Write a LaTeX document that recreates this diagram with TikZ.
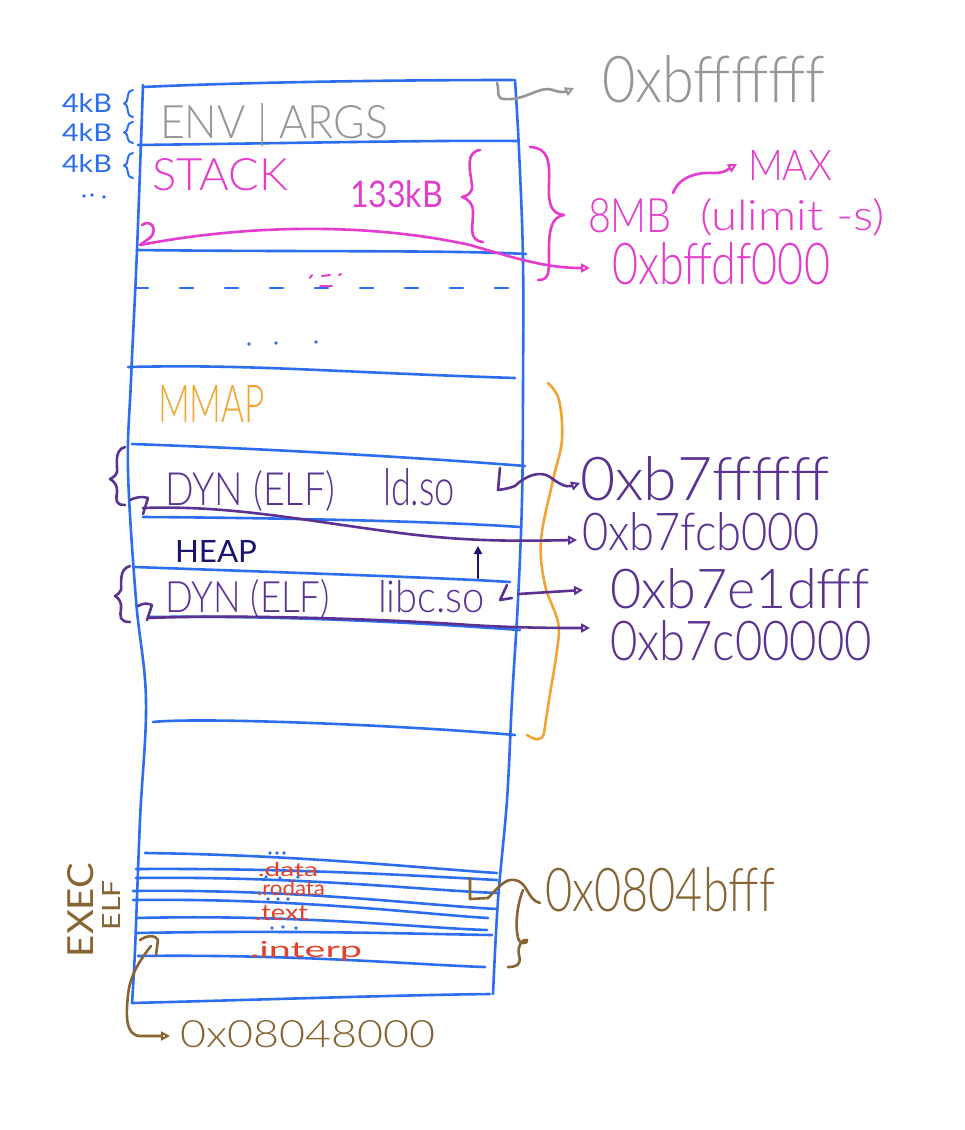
\documentclass[tikz,border=0pt]{standalone}
\usepackage{fontspec}
\setmainfont{Lato Light}
\newfontfamily\regf{Lato}
\usetikzlibrary{arrows.meta}
\definecolor{cblue}{RGB}{45,110,240}
\definecolor{cgray}{RGB}{150,150,150}
\definecolor{cmag}{RGB}{228,60,205}
\definecolor{corange}{RGB}{240,165,50}
\definecolor{cpurp}{RGB}{90,50,145}
\definecolor{cnavy}{RGB}{25,20,110}
\definecolor{cred}{RGB}{225,65,45}
\definecolor{cbrown}{RGB}{135,100,50}
\newcommand{\hw}[3]{\resizebox{#1pt}{#2pt}{#3}}
\begin{document}
\begin{tikzpicture}[x=1pt,y=-1pt,
  ln/.style={line width=2.6pt,line cap=round,line join=round},
  bl/.style={ln,draw=cblue},
  mg/.style={ln,draw=cmag},
  pu/.style={ln,draw=cpurp},
  br/.style={ln,draw=cbrown},
  lab/.style={inner sep=0pt,outer sep=0pt,anchor=base west},
  harrow/.style={-{Triangle[open,length=9pt,width=9pt,line width=2pt]}}]
\useasboundingbox[fill=white] (0,0) rectangle (964,1130);

% ---------- memory box ----------
\draw[bl] plot[smooth,tension=0.6] coordinates {(143,85) (137,250) (131,380) (128,470) (136,600) (146,700) (140,820) (135,950) (132,1003)};
\draw[bl] plot[smooth,tension=0.6] coordinates {(515,80) (519,150) (523,260) (523,390) (522,500) (518,600) (512,700) (507,800) (498,900) (493,994)};
\draw[bl] (143,87) .. controls (250,82) and (400,80) .. (513,80);
\draw[bl] (132,1003) .. controls (250,1000) and (400,995) .. (490,994);

\draw[bl] (138,145) .. controls (300,143) and (450,140) .. (517,141);
\draw[bl] (137,250) .. controls (300,252) and (450,250) .. (526,254);
\draw[bl,dash pattern=on 13pt off 32pt] (135,288) -- (528,288);
\draw[bl] (128,367) .. controls (250,364) and (330,372) .. (515,378);
\draw[bl] (132,444) .. controls (300,450) and (450,460) .. (525,466);
\draw[bl] (143,517) .. controls (300,518) and (450,522) .. (520,527);
\draw[bl] (135,567) .. controls (300,573) and (450,578) .. (510,582);
\draw[bl] (148,617) .. controls (300,615) and (450,625) .. (520,630);
\draw[bl] (153,722) .. controls (200,717) and (400,725) .. (515,735);

\draw[bl] (145,853) .. controls (300,855) and (420,868) .. (497,873);
\draw[bl] (136,869) .. controls (300,868) and (420,876) .. (497,880);
\draw[bl] (136,878) .. controls (300,876) and (420,890) .. (497,893);
\draw[bl] (133,891) .. controls (300,889) and (420,905) .. (497,909);
\draw[bl] (133,900) .. controls (300,898) and (420,914) .. (488,918);
\draw[bl] (136,918) .. controls (300,914) and (420,928) .. (487,930);
\draw[bl] (136,933) .. controls (300,930) and (420,934) .. (492,935);
\draw[bl] (138,956) .. controls (300,954) and (420,965) .. (485,967);

% blue dots
\foreach \p in {(249,344),(276,343),(316,342),
  (270,853),(277,853),(284,853),
  (266,877),(280,878),(298,877),
  (268,899),(278,899),(288,899),
  (272,928),(283,927),(296,928),
  (84,196),(92,195),(104,197)}
  \fill[cblue] \p circle (1.9pt);

% ---------- top labels ----------
\node[lab,text=cblue] (k1) at (62,112) {\regf\hw{50}{19}{4kB}};
\node[lab,text=cblue] (k2) at (62,141) {\regf\hw{50}{18}{4kB}};
\node[lab,text=cblue] (k3) at (62,172) {\regf\hw{50}{18}{4kB}};
\foreach \a/\b in {90/117,122/143,153/178}{
  \draw[bl,line width=2pt] (133,\a) .. controls (124,\a+2) and (131,{(\a+\b)/2-3}) .. (124,{(\a+\b)/2})
     .. controls (131,{(\a+\b)/2+3}) and (124,\b-2) .. (133,\b);
}

\node[lab,text=cgray] (env) at (160,138) {\hw{228}{35}{ENV | ARGS}};
\node[lab,text=cgray] (atop) at (602,102) {\hw{223}{47}{0xbfffffff}};
\draw[ln,cgray,harrow] (497,83) .. controls (500,92) and (495,99) .. (505,99)
  .. controls (525,101) and (540,85) .. (553,90) .. controls (560,93) and (565,92) .. (574,88);

% ---------- stack ----------
\node[lab,text=cmag] (stack) at (152,190) {\hw{136}{32}{STACK}};
\node[lab,text=cmag] (k133) at (350,207) {\regf\hw{93}{27}{133kB}};
\node[lab,text=cmag] (mb8) at (588,232) {\hw{84}{34}{8MB}};
\node[lab,text=cmag] (ulim) at (700,230) {\hw{185}{32}{(ulimit -s)}};
\node[lab,text=cmag] (max) at (748,180) {\hw{84}{30}{MAX}};
\node[lab,text=cmag] (astk) at (612,284) {\hw{218}{42}{0xbffdf000}};

% 133kB brace
\draw[mg] (480,150) .. controls (465,152) and (470,170) .. (472,185) .. controls (473,192) and (468,196) .. (462,197)
  .. controls (468,199) and (473,203) .. (473,212) .. controls (473,228) and (468,240) .. (483,242);
% 8MB brace
\draw[mg] (530,147) .. controls (548,148) and (550,160) .. (549,185) .. controls (548,205) and (552,214) .. (564,215)
  .. controls (552,217) and (549,228) .. (549,250) .. controls (549,272) and (550,280) .. (538,280);
% MAX arrow
\draw[mg,harrow] (673,193) .. controls (680,175) and (700,172) .. (715,173) .. controls (725,173) and (730,168) .. (737,164);
% stack pointer curve
\draw[mg] (142,225) .. controls (150,219) and (158,228) .. (151,237) -- (140,245);
\draw[mg,harrow] (140,245) .. controls (260,222) and (380,225) .. (470,245) .. controls (515,258) and (545,268) .. (590,268);
% little magenta marks
\draw[mg,line width=2pt] (310,278) -- (312,275);
\draw[mg,line width=2pt] (322,276) -- (330,275);
\draw[mg,line width=2pt] (339,275) -- (341,274);
\draw[mg,line width=2pt] (320,286) -- (332,286);

% ---------- mmap ----------
\node[lab,text=corange] (mmap) at (158,422) {\hw{107}{37}{MMAP}};
\draw[ln,corange] plot[smooth,tension=0.6] coordinates {(548,383) (559,400) (562,440) (553,480) (541,540) (545,585) (558,622) (557,650) (549,700) (544,733)};
\draw[ln,corange] (544,733) .. controls (542,742) and (535,740) .. (527,735);

% ---------- dynamic libs ----------
\node[lab,text=cpurp] (dyn1) at (165,505) {\hw{170}{35}{DYN (ELF)}};
\node[lab,text=cpurp] (ld) at (383,505) {\hw{72}{37}{ld.so}};
\node[lab,text=cnavy] (heap) at (175,562) {\regf\hw{82}{22}{HEAP}};
\node[lab,text=cpurp] (dyn2) at (165,612) {\hw{165}{33}{DYN (ELF)}};
\node[lab,text=cpurp] (libc) at (378,612) {\hw{107}{32}{libc.so}};

\node[lab,text=cpurp] (a1) at (580,500) {\hw{250}{44}{0xb7ffffff}};
\node[lab,text=cpurp] (a2) at (582,550) {\hw{238}{38}{0xb7fcb000}};
\node[lab,text=cpurp] (a3) at (610,608) {\hw{260}{40}{0xb7e1dfff}};
\node[lab,text=cpurp] (a4) at (610,660) {\hw{262}{40}{0xb7c00000}};

% left braces
\draw[pu] (125,447) .. controls (113,450) and (118,468) .. (117,472) .. controls (116,476) and (112,478) .. (110,479)
  .. controls (114,481) and (118,486) .. (117,492) .. controls (116,500) and (115,505) .. (125,505);
\draw[pu] (130,566) .. controls (118,569) and (122,585) .. (121,590) .. controls (120,593) and (117,595) .. (115,596)
  .. controls (119,598) and (122,603) .. (121,609) .. controls (120,616) and (119,622) .. (130,622);
% 7 hooks and curves
\draw[pu] (130,500) .. controls (136,497) and (143,496) .. (148,498) -- (143,514);
\draw[pu,harrow] (143,508) .. controls (230,505) and (300,520) .. (400,533) .. controls (470,542) and (520,541) .. (577,540);
\draw[pu] (138,606) .. controls (143,603) and (148,603) .. (152,605) -- (147,620);
\draw[pu,harrow] (148,618) .. controls (250,614) and (400,620) .. (470,625) .. controls (520,628) and (560,628) .. (590,628);
% right hooks
\draw[pu] (500,468) -- (498,490) .. controls (505,489) and (510,488) .. (515,486);
\draw[pu,harrow] (515,486) .. controls (525,476) and (540,470) .. (550,477) .. controls (558,483) and (566,488) .. (580,483);
\draw[pu] (507,585) -- (500,600) -- (512,598);
\draw[pu,harrow] (518,594) -- (583,590);
% heap arrow
\draw[ln,cnavy,-{Triangle[length=8pt,width=8pt]}] (478,578) -- (478,546);

% ---------- exec ----------
\node[lab,text=cred] (data) at (258,876) {\regf\hw{60}{14}{.data}};
\node[lab,text=cred] (rodata) at (257,895) {\regf\hw{68}{15}{.rodata}};
\node[lab,text=cred] (text) at (255,920) {\regf\hw{53}{15}{.text}};
\node[lab,text=cred] (interp) at (250,957) {\regf\hw{112}{16}{.interp}};

\node[lab,text=cbrown,rotate=90] (exec) at (93,957) {\regf\hw{94}{26}{EXEC}};
\node[lab,text=cbrown,rotate=90] (elf) at (120,930) {\regf\hw{50}{18}{ELF}};

\node[lab,text=cbrown] (abot) at (545,911) {\hw{230}{44}{0x0804bfff}};
\node[lab,text=cbrown] (aelf) at (180,1047) {\hw{255}{27}{0x08048000}};

\draw[br] (140,940) .. controls (147,935) and (156,935) .. (158,940) -- (156,955);
\draw[br,harrow] (151,946) .. controls (140,960) and (130,975) .. (128,995) .. controls (126,1015) and (125,1035) .. (140,1036) -- (170,1036);
\draw[br] (470,878) -- (470,899) -- (488,898);
\draw[br] (488,898) .. controls (498,888) and (505,878) .. (515,880) .. controls (528,882) and (527,900) .. (540,903);
\draw[br] (523,890) .. controls (517,905) and (515,925) .. (518,938) .. controls (520,945) and (528,944) .. (527,940)
  .. controls (522,938) and (517,948) .. (519,955) .. controls (522,965) and (516,967) .. (508,967);
\end{tikzpicture}
\end{document}
